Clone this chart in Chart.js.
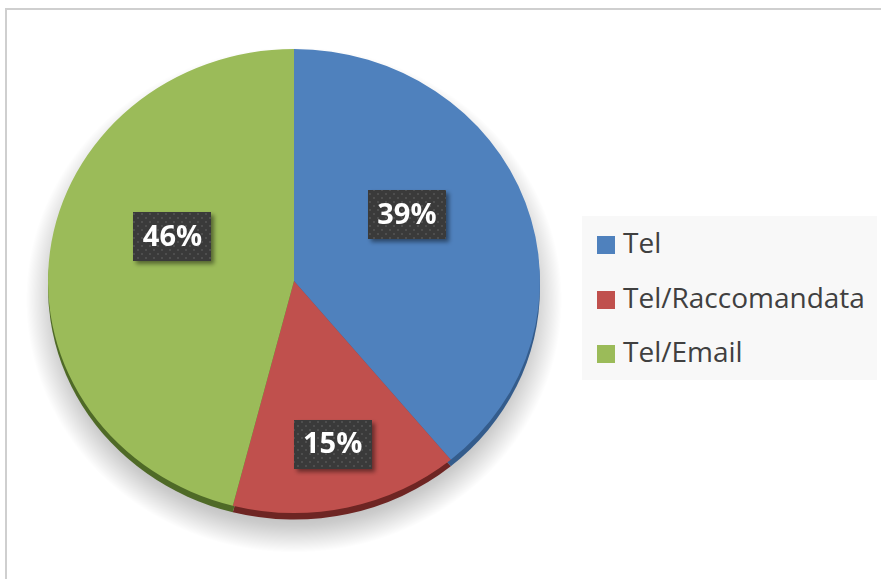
<!DOCTYPE html>
<html>
<head>
<meta charset="utf-8">
<script src="https://cdn.jsdelivr.net/npm/chart.js@4"></script>
<style>
  html, body { margin: 0; padding: 0; background: #fff; overflow: hidden; }
  #wrap { position: relative; width: 881px; height: 579px; }
  #frame {
    position: absolute; left: 5px; top: 8px; width: 900px; height: 600px;
    border-top: 2px solid #cfcfcf; border-left: 2px solid #cfcfcf;
  }
  #pie { position: absolute; left: 0; top: 0; }
  #legend {
    position: absolute; left: 582px; top: 216px; width: 295px; height: 164px;
    background: #f8f8f8; font-family: "Open Sans", sans-serif; font-size: 28px; color: #404040;
  }
  #legend .item { position: absolute; left: 15px; height: 30px; line-height: 30px; white-space: nowrap; }
  #legend .box { display: inline-block; width: 18px; height: 18px; margin-right: 8px; vertical-align: -1px; }
</style>
</head>
<body>
<div id="wrap">
  <div id="frame"></div>
  <canvas id="pie" width="881" height="579"></canvas>
  <div id="legend"></div>
</div>
<script>
// dati del grafico
const categorie = ["Tel", "Tel/Raccomandata", "Tel/Email"];
const percentuali = [39, 15, 46];

// stile
const colori = ["#4f81bd", "#c0504d", "#9bbb59"];
const coloriBordo = ["#345c8c", "#6e2523", "#4f6a27"];
const schiacciamento = 0.943;   // pie leggermente ellittica come in Excel
const spessore3d = 7;
// posizione etichette: [frazione raggio, scostamento angolo in gradi]
const posEtichette = [[0.54, -12], [0.72, 0], [0.53, 14]];

// legenda HTML
const legend = document.getElementById("legend");
const righeY = [11, 66, 120];
categorie.forEach((c, i) => {
  const d = document.createElement("div");
  d.className = "item";
  d.style.top = righeY[i] + "px";
  d.innerHTML = `<span class="box" style="background:${colori[i]}"></span>${c}`;
  legend.appendChild(d);
});

// pattern puntinato per i box etichette
function creaPattern(ctx) {
  const p = document.createElement("canvas");
  p.width = 8; p.height = 8;
  const pc = p.getContext("2d");
  pc.fillStyle = "#3a3a3a";
  pc.fillRect(0, 0, 8, 8);
  pc.fillStyle = "#4e4e4e";
  pc.fillRect(1, 1, 2, 2);
  pc.fillRect(5, 5, 2, 2);
  return ctx.createPattern(p, "repeat");
}

function schiaccia(ctx, cx, cy) {
  ctx.translate(cx, cy);
  ctx.scale(1, schiacciamento);
  ctx.translate(-cx, -cy);
}

const pie3d = {
  id: "pie3d",
  beforeDatasetsDraw(chart) {
    const ctx = chart.ctx;
    const meta = chart.getDatasetMeta(0);
    const el0 = meta.data[0];
    const cx = el0.x, cy = el0.y, r = el0.outerRadius;

    // ombra morbida sotto la torta (gradiente radiale)
    ctx.save();
    schiaccia(ctx, cx, cy);
    const sy = cy + 20;
    const g = ctx.createRadialGradient(cx, sy, r - 30, cx, sy, r + 22);
    g.addColorStop(0, "rgba(0,0,0,0.30)");
    g.addColorStop(0.45, "rgba(0,0,0,0.20)");
    g.addColorStop(1, "rgba(0,0,0,0)");
    ctx.fillStyle = g;
    ctx.beginPath();
    ctx.arc(cx, sy, r + 22, 0, Math.PI * 2);
    ctx.fill();
    ctx.restore();

    ctx.save();
    schiaccia(ctx, cx, cy);
    // bordo 3d
    meta.data.forEach((el, i) => {
      ctx.fillStyle = coloriBordo[i];
      ctx.beginPath();
      ctx.moveTo(el.x, el.y + spessore3d);
      ctx.arc(el.x, el.y + spessore3d, el.outerRadius, el.startAngle, el.endAngle);
      ctx.closePath();
      ctx.fill();
    });
  },
  afterDatasetsDraw(chart) {
    const ctx = chart.ctx;
    ctx.restore();

    const meta = chart.getDatasetMeta(0);
    const pattern = creaPattern(ctx);
    ctx.save();
    ctx.font = "bold 29px 'Open Sans', sans-serif";
    ctx.textAlign = "center";
    ctx.textBaseline = "middle";
    meta.data.forEach((el, i) => {
      const [fr, dA] = posEtichette[i];
      const a = (el.startAngle + el.endAngle) / 2 + dA * Math.PI / 180;
      const x = el.x + Math.cos(a) * el.outerRadius * fr;
      const y = el.y + Math.sin(a) * el.outerRadius * fr * schiacciamento;
      const w = 78, h = 49;
      ctx.save();
      ctx.shadowColor = "rgba(0,0,0,0.45)";
      ctx.shadowBlur = 4;
      ctx.shadowOffsetX = 3;
      ctx.shadowOffsetY = 3;
      ctx.fillStyle = pattern;
      ctx.fillRect(Math.round(x - w / 2), Math.round(y - h / 2), w, h);
      ctx.restore();
      ctx.fillStyle = "#ffffff";
      ctx.fillText(percentuali[i] + "%", x, y + 1);
    });
    ctx.restore();
  }
};

new Chart(document.getElementById("pie").getContext("2d"), {
  type: "pie",
  data: {
    labels: categorie,
    datasets: [{
      data: percentuali,
      backgroundColor: colori,
      borderWidth: 0
    }]
  },
  options: {
    responsive: false,
    animation: false,
    layout: { padding: { left: 48, right: 341, top: 35, bottom: 52 } },
    plugins: {
      legend: { display: false },
      tooltip: { enabled: false }
    }
  },
  plugins: [pie3d]
});
</script>
</body>
</html>
